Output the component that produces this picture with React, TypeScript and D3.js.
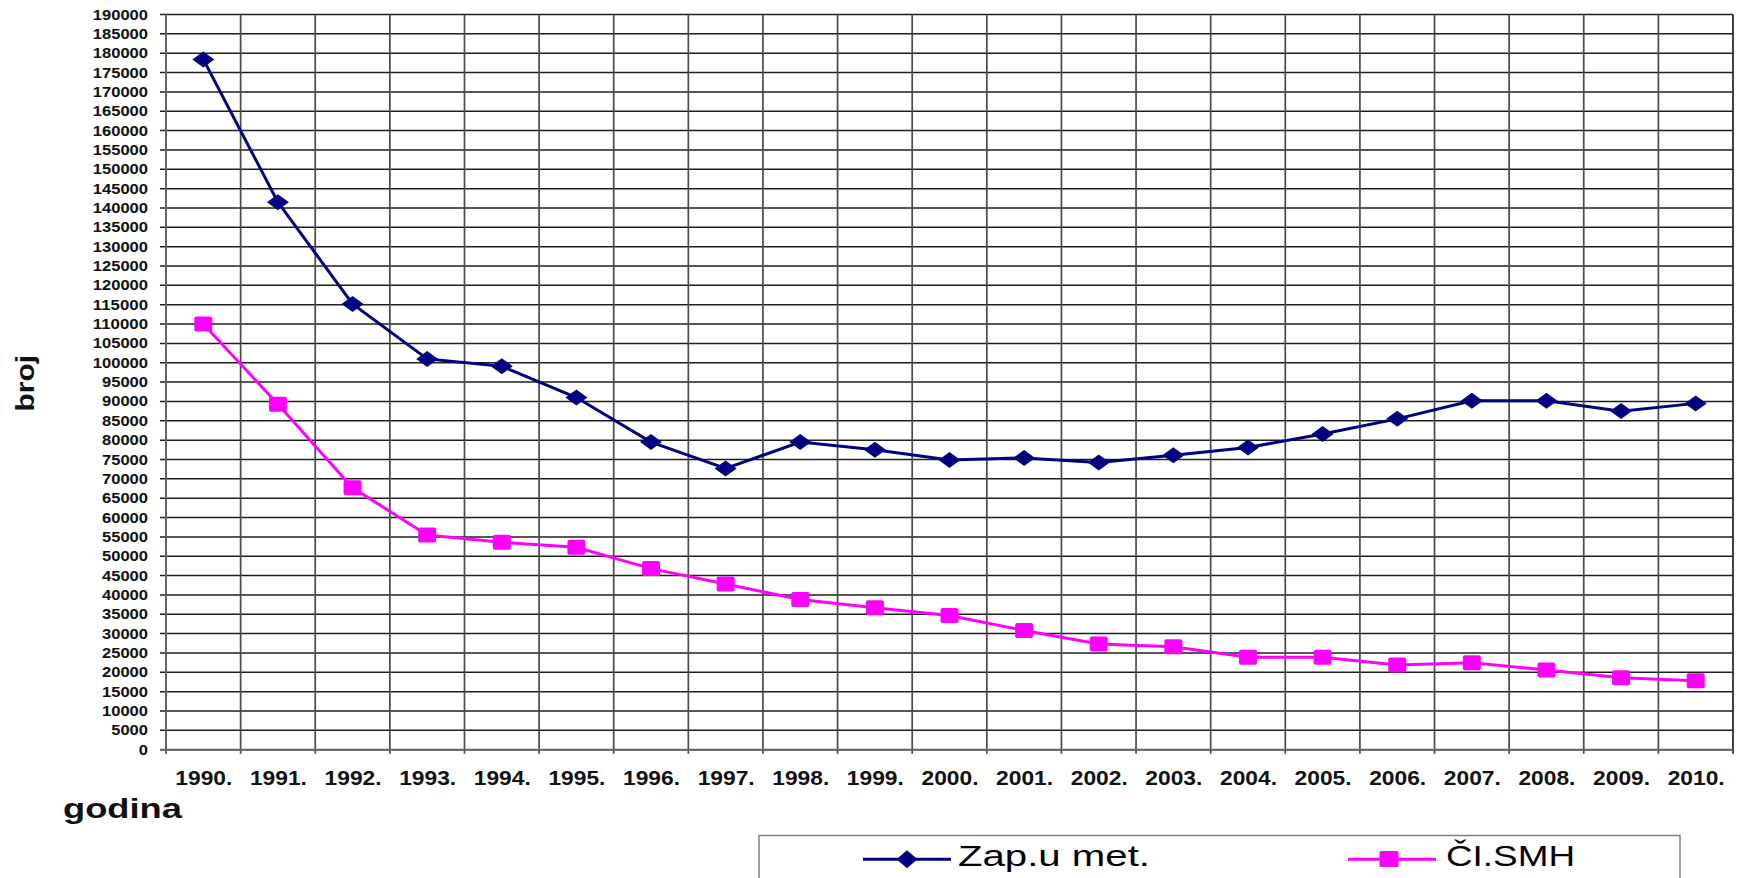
import React from "react";
import * as d3 from "d3";

const years = ["1990.", "1991.", "1992.", "1993.", "1994.", "1995.", "1996.", "1997.", "1998.", "1999.", "2000.", "2001.", "2002.", "2003.", "2004.", "2005.", "2006.", "2007.", "2008.", "2009.", "2010."];
const zapUMet = [178400, 141500, 115200, 101000, 99100, 91000, 79500, 72700, 79500, 77500, 74900, 75400, 74200, 76100, 78100, 81600, 85500, 90200, 90200, 87500, 89500];
const clSMH = [110000, 89300, 67700, 55500, 53600, 52300, 46800, 42800, 38800, 36700, 34700, 30800, 27300, 26600, 23900, 23900, 21900, 22500, 20600, 18600, 17800];
const yTicks = d3.range(0, 190001, 5000);
const seriesNames = ["Zap.u met.", "ČI.SMH"];

const W = 1738;
const H = 878;
const left = 166;
const right = 1733;
const top = 14.5;
const bottom = 749.7;
const FONT = "'Liberation Sans', Arial, sans-serif";

export default function App() {
  const x = d3.scaleBand<string>().domain(years).range([left, right]).padding(0);
  const y = d3.scaleLinear().domain([0, 190000]).range([bottom, top]);
  const cx = (d: string) => (x(d) as number) + x.bandwidth() / 2;
  const line = d3
    .line<number>()
    .x((_, i) => cx(years[i]))
    .y((v) => y(v));

  const diamond = (px: number, py: number, w = 22, h = 16) =>
    `M${px - w / 2},${py}L${px},${py - h / 2}L${px + w / 2},${py}L${px},${py + h / 2}Z`;

  return (
    <svg
      width={W}
      height={H}
      style={{ position: "fixed", left: 0, top: 0, background: "#fff" }}
      fontFamily={FONT}
    >
      <rect x={0} y={0} width={W} height={H} fill="#fff" />
      {/* horizontal gridlines */}
      {yTicks.map((t) => (
        <line key={"h" + t} x1={left - 6} x2={right} y1={y(t)} y2={y(t)} stroke="#1e1e1e" strokeWidth={1.5} />
      ))}
      {/* vertical gridlines */}
      {years.map((yr) => (
        <line
          key={"v" + yr}
          x1={x(yr) as number}
          x2={x(yr) as number}
          y1={top}
          y2={bottom + 4}
          stroke="#4a4a4a"
          strokeWidth={1.7}
        />
      ))}
      <line x1={right} x2={right} y1={top} y2={bottom + 4} stroke="#222" strokeWidth={1.7} />
      {/* axes */}
      <line x1={left} x2={left} y1={top} y2={bottom + 4} stroke="#666" strokeWidth={2} />
      <line x1={left - 6} x2={right} y1={bottom} y2={bottom} stroke="#666" strokeWidth={2} />
      {/* y tick labels */}
      {yTicks.map((t) => (
        <text
          key={"yl" + t}
          x={148}
          y={y(t)}
          dy="0.36em"
          textAnchor="end"
          fontSize={14}
          fontWeight="bold"
          textLength={String(t).length * 9.2}
          lengthAdjust="spacingAndGlyphs"
          fill="#111"
        >
          {t}
        </text>
      ))}
      {/* x tick labels */}
      {years.map((yr) => (
        <text
          key={"xl" + yr}
          x={cx(yr) - 28}
          y={785}
          fontSize={20.5}
          fontWeight="bold"
          textLength={57}
          lengthAdjust="spacingAndGlyphs"
          fill="#111"
        >
          {yr}
        </text>
      ))}
      {/* axis titles */}
      <text x={63} y={818} fontSize={27} fontWeight="bold" textLength={119} lengthAdjust="spacingAndGlyphs" fill="#111">
        godina
      </text>
      <text
        transform="translate(34,411.5) rotate(-90)"
        fontSize={25}
        fontWeight="bold"
        textLength={56.5}
        lengthAdjust="spacingAndGlyphs"
        fill="#111"
      >
        broj
      </text>
      {/* series */}
      <path d={line(zapUMet) || ""} fill="none" stroke="#000080" strokeWidth={3} />
      <path d={line(clSMH) || ""} fill="none" stroke="#FF00FF" strokeWidth={3} />
      {zapUMet.map((v, i) => (
        <path key={"d" + i} d={diamond(cx(years[i]), y(v))} fill="#000080" />
      ))}
      {clSMH.map((v, i) => (
        <rect
          key={"s" + i}
          x={cx(years[i]) - 9}
          y={y(v) - 7.5}
          width={18}
          height={15}
          rx={2}
          fill="#FF00FF"
        />
      ))}
      {/* legend */}
      <rect x={759} y={835.5} width={921} height={60} fill="#fff" stroke="#777" strokeWidth={1.4} />
      <line x1={863} x2={951} y1={859.3} y2={859.3} stroke="#000080" strokeWidth={3} />
      <path d={diamond(907, 859.3, 21, 18)} fill="#000080" />
      <text x={958} y={866} fontSize={30} textLength={192} lengthAdjust="spacingAndGlyphs" fill="#000">
        {seriesNames[0]}
      </text>
      <line x1={1348} x2={1436} y1={859.3} y2={859.3} stroke="#FF00FF" strokeWidth={3} />
      <rect x={1379.5} y={851} width={19} height={16} rx={1.5} fill="#FF00FF" />
      <text x={1446} y={866} fontSize={30} textLength={129} lengthAdjust="spacingAndGlyphs" fill="#000">
        {seriesNames[1]}
      </text>
    </svg>
  );
}
